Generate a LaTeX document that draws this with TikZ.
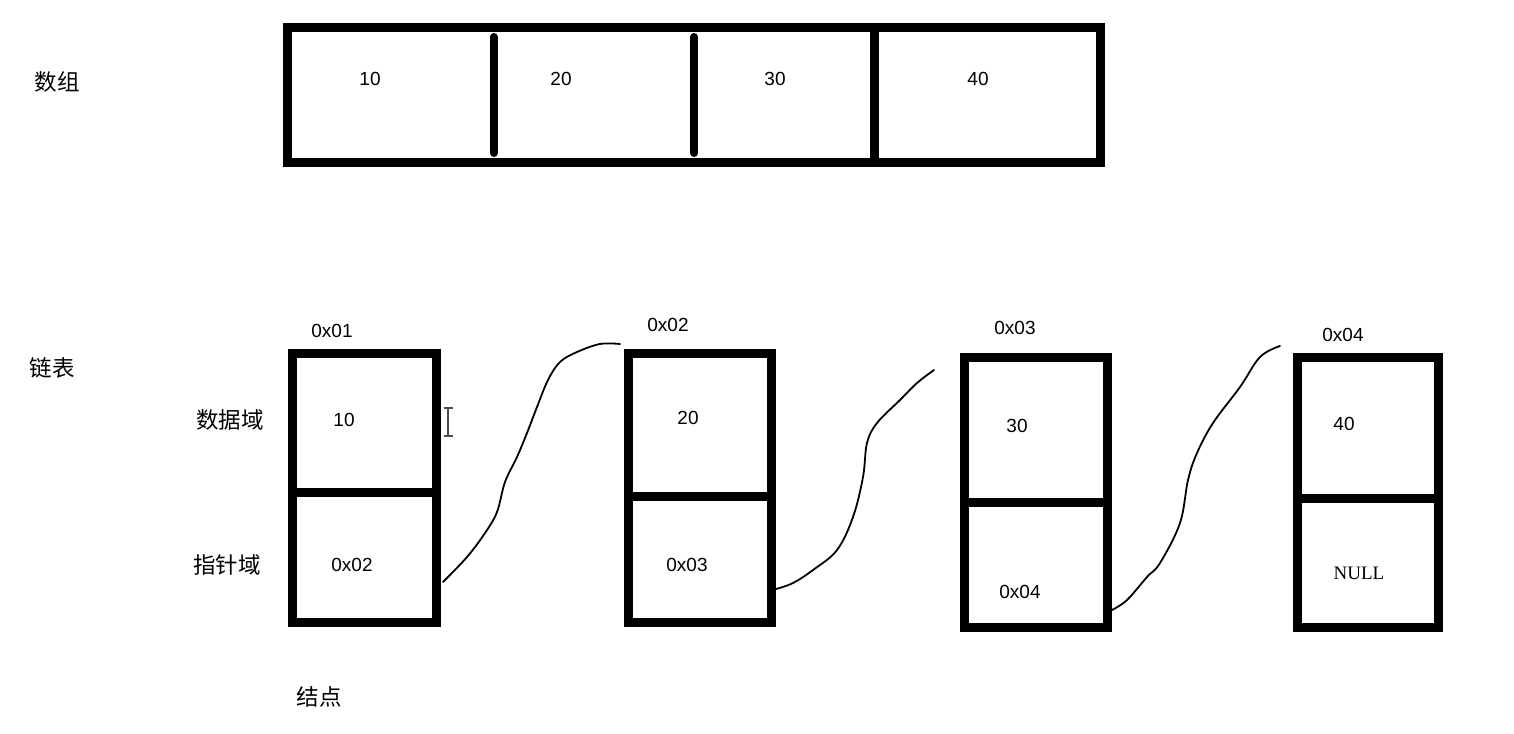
\documentclass[tikz,border=0pt]{standalone}
\usepackage{fontspec}
\setmainfont{Liberation Sans}
\newfontfamily\cjk{Noto Sans CJK SC}
\newfontfamily\serfont{Liberation Serif}
\usetikzlibrary{calc}
\begin{document}
\begin{tikzpicture}[x=1pt,y=-1pt,
  box/.style={draw, line width=9pt, inner sep=0pt, outer sep=0pt, rectangle},
  num/.style={inner sep=0pt, font=\fontsize{19}{21}\selectfont},
  zh/.style={inner sep=0pt, font=\cjk\fontsize{22.5}{24}\selectfont},
  link/.style={line width=1.8pt, line join=round, line cap=round},
]
\fill[white] (0,0) rectangle (1514,733);
\useasboundingbox (0,0) rectangle (1514,733);

% ---------- array ----------
\node[zh] (lblarr) at (57,82) {数组};
\node[box, minimum width=813pt, minimum height=135pt] (arr) at (694,95) {};
\draw[line width=8pt, line cap=round] (493.5,37) -- (493.5,153);
\draw[line width=8pt, line cap=round] (694,37) -- (694,153);
\draw[line width=9pt] (874,27.5) -- (874,162.5);
\node[num] (a1) at (370,79) {10};
\node[num] (a2) at (561,79) {20};
\node[num] (a3) at (775,79) {30};
\node[num] (a4) at (978,79) {40};

% ---------- linked list ----------
\node[zh] (lbllist) at (52,368) {链表};
\node[zh] (lbldata) at (230,420) {数据域};
\node[zh] (lblptr) at (227,565) {指针域};
\node[zh] (lblnode) at (319,697) {结点};

% node 1
\node[box, minimum width=143.5pt, minimum height=139pt] (d1) at (364.25,423) {};
\node[box, minimum width=143.5pt, minimum height=130pt] (p1) at (364.25,557.5) {};
\node[num] (ad1) at (332,331) {0x01};
\node[num] (v1) at (344,420) {10};
\node[num] (n1) at (352,565) {0x02};

% node 2
\node[box, minimum width=143pt, minimum height=142.5pt] (d2) at (700,424.75) {};
\node[box, minimum width=143pt, minimum height=126.5pt] (p2) at (700,559.25) {};
\node[num] (ad2) at (668,325) {0x02};
\node[num] (v2) at (688,418) {20};
\node[num] (n2) at (687,565) {0x03};

% node 3
\node[box, minimum width=143pt, minimum height=144.5pt] (d3) at (1036,429.75) {};
\node[box, minimum width=143pt, minimum height=125.5pt] (p3) at (1036,564.75) {};
\node[num] (ad3) at (1015,328) {0x03};
\node[num] (v3) at (1017,426) {30};
\node[num] (n3) at (1020,592) {0x04};

% node 4
\node[box, minimum width=141.5pt, minimum height=140.5pt] (d4) at (1367.75,427.75) {};
\node[box, minimum width=141.5pt, minimum height=129.5pt] (p4) at (1367.75,562.75) {};
\node[num] (ad4) at (1343,335) {0x04};
\node[num] (v4) at (1344,424) {40};
\node[inner sep=0pt, font=\serfont\fontsize{19}{21}\selectfont] (n4) at (1359,573) {NULL};

% text cursor
\draw[line width=1.5pt, black!70] (448,408) -- (448,436)
  (443.5,408) -- (453,408) (443.5,436) -- (453,436);

% links
\coordinate (c1s) at ($(p1.east)+(7,24.5)$);
\coordinate (c1e) at ($(d2.north west)+(-8.5,-9.5)$);
\draw[link] plot[smooth, tension=0.6] coordinates {(c1s) (467,557) (485,533) (497,512) (505,482) (517,457) (527,433) (537,407) (548,380) (560,362) (577,352) (600,344) (c1e)};

\coordinate (c2s) at ($(p2.east)+(4.5,29.75)$);
\coordinate (c2e) at (934,370);
\draw[link] plot[smooth, tension=0.6] coordinates {(c2s) (793,583) (813,570) (837,550) (853,517) (863,477) (867,443) (877,423) (900,400) (917,383) (c2e)};

\coordinate (c3s) at ($(p3.east)+(4.5,45.25)$);
\coordinate (c3e) at (1280,346);
\draw[link] plot[smooth, tension=0.6] coordinates {(c3s) (1127,600) (1147,577) (1160,563) (1180,523) (1188,480) (1197,453) (1213,423) (1240,387) (1260,357) (c3e)};
\end{tikzpicture}
\end{document}
